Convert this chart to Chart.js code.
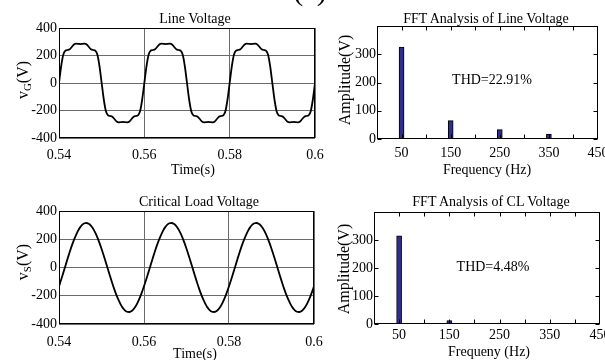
<!DOCTYPE html>
<html>
<head>
<meta charset="utf-8">
<script src="https://cdn.jsdelivr.net/npm/chart.js@4.4.1/dist/chart.umd.min.js"></script>
<style>
  html, body { margin: 0; padding: 0; background: #fff; }
  #wrap { position: relative; width: 605px; height: 360px; overflow: hidden; background: #fff; }
  canvas { position: absolute; }
  .t { position: absolute; font-family: "Liberation Serif", "Times New Roman", serif; font-size: 14px; line-height: 1; color: #000; white-space: nowrap; transform: translate(-50%, -50%); }
  .r { transform: translate(-50%, -50%) rotate(-90deg); font-size: 16px; }
  .t sub { font-size: 11px; vertical-align: -3px; line-height: 0; }
</style>
</head>
<body>
<div id="wrap">
  <canvas id="cA" width="330" height="170" style="left:0px;top:0px;width:330px;height:170px"></canvas>
  <canvas id="cB" width="330" height="170" style="left:300px;top:0px;width:330px;height:170px"></canvas>
  <canvas id="cC" width="330" height="180" style="left:0px;top:180px;width:330px;height:180px"></canvas>
  <canvas id="cD" width="330" height="180" style="left:300px;top:180px;width:330px;height:180px"></canvas>

  <div class="t" style="left:310px;top:-10px;font-size:30px;">(a)</div>

  <div class="t" style="left:195px;top:19px;">Line Voltage</div>
  <div class="t" style="left:486px;top:19px;">FFT Analysis of Line Voltage</div>
  <div class="t" style="left:199px;top:202px;">Critical Load Voltage</div>
  <div class="t" style="left:491px;top:202px;">FFT Analysis of CL Voltage</div>

  <div class="t" style="left:193px;top:170px;">Time(s)</div>
  <div class="t" style="left:195px;top:354px;">Time(s)</div>
  <div class="t" style="left:487px;top:170px;">Frequency (Hz)</div>
  <div class="t" style="left:489px;top:352px;">Frequeny (Hz)</div>

  <div class="t" style="left:492px;top:80px;">THD=22.91%</div>
  <div class="t" style="left:493px;top:267px;">THD=4.48%</div>

  <div class="t r" style="left:345px;top:80px;">Amplitude(V)</div>
  <div class="t r" style="left:344px;top:269px;">Amplitude(V)</div>
  <div class="t r" style="left:23px;top:80px;">v<sub>G</sub>(V)</div>
  <div class="t r" style="left:23px;top:262px;">v<sub>S</sub>(V)</div>
</div>
<script>
// ---------------- DATA ----------------
const timeValues = [
  0.54,0.5405,0.541,0.5415,0.542,0.5425,0.543,0.5435,0.544,0.5445,0.545,0.5455,0.546,0.5465,0.547,0.5475,0.548,0.5485,0.549,0.5495,
  0.55,0.5505,0.551,0.5515,0.552,0.5525,0.553,0.5535,0.554,0.5545,0.555,0.5555,0.556,0.5565,0.557,0.5575,0.558,0.5585,0.559,0.5595,
  0.56,0.5605,0.561,0.5615,0.562,0.5625,0.563,0.5635,0.564,0.5645,0.565,0.5655,0.566,0.5665,0.567,0.5675,0.568,0.5685,0.569,0.5695,
  0.57,0.5705,0.571,0.5715,0.572,0.5725,0.573,0.5735,0.574,0.5745,0.575,0.5755,0.576,0.5765,0.577,0.5775,0.578,0.5785,0.579,0.5795,
  0.58,0.5805,0.581,0.5815,0.582,0.5825,0.583,0.5835,0.584,0.5845,0.585,0.5855,0.586,0.5865,0.587,0.5875,0.588,0.5885,0.589,0.5895,
  0.59,0.5905,0.591,0.5915,0.592,0.5925,0.593,0.5935,0.594,0.5945,0.595,0.5955,0.596,0.5965,0.597,0.5975,0.598,0.5985,0.599,0.5995,
  0.6
];
const lineVoltage = [
  0,120,205,235,240,245,262,280,286,285,283,285,286,280,262,245,240,235,205,120,
  0,-120,-205,-235,-240,-245,-262,-280,-286,-285,-283,-285,-286,-280,-262,-245,-240,-235,-205,-120,
  0,120,205,235,240,245,262,280,286,285,283,285,286,280,262,245,240,235,205,120,
  0,-120,-205,-235,-240,-245,-262,-280,-286,-285,-283,-285,-286,-280,-262,-245,-240,-235,-205,-120,
  0,120,205,235,240,245,262,280,286,285,283,285,286,280,262,245,240,235,205,120,
  0,-120,-205,-235,-240,-245,-262,-280,-286,-285,-283,-285,-286,-280,-262,-245,-240,-235,-205,-120,
  0
];
const loadVoltage = [
  -133,-87,-38,11,60,108,153,194,230,261,286,303,313,315,309,296,276,248,215,176,
  133,87,38,-11,-60,-108,-153,-194,-230,-261,-286,-303,-313,-315,-309,-296,-276,-248,-215,-176,
  -133,-87,-38,11,60,108,153,194,230,261,286,303,313,315,309,296,276,248,215,176,
  133,87,38,-11,-60,-108,-153,-194,-230,-261,-286,-303,-313,-315,-309,-296,-276,-248,-215,-176,
  -133,-87,-38,11,60,108,153,194,230,261,286,303,313,315,309,296,276,248,215,176,
  133,87,38,-11,-60,-108,-153,-194,-230,-261,-286,-303,-313,-315,-309,-296,-276,-248,-215,-176,
  -133
];
const harmonicFreqs = [50, 150, 250, 350];
const lineFFT = [325, 65, 33, 17];
const loadFFT = [315, 12, 3, 0];

const timeTicks = [0.54, 0.56, 0.58, 0.6];
const timeTickLabels = ['0.54', '0.56', '0.58', '0.6'];
const voltTicks = [-400, -200, 0, 200, 400];
const freqTicks = [50, 150, 250, 350, 450];
const freqMinorTicks = [50, 100, 150, 200, 250, 300, 350, 400];
const ampTicks = [0, 100, 200, 300];

// ---------------- HELPERS ----------------
const FONT = { family: '"Liberation Serif", "Times New Roman", serif', size: 14 };

const boxPlugin = {
  id: 'boxFrame',
  afterDraw(chart, args, opts) {
    const { ctx, chartArea } = chart;
    const l = Math.round(chartArea.left) + 0.5, r = Math.round(chartArea.right) - 0.5;
    const t = Math.round(chartArea.top) + 0.5, b = Math.round(chartArea.bottom) - 0.5;
    ctx.save();
    ctx.strokeStyle = '#000';
    ctx.lineWidth = 1;
    if (opts.xTicks) {
      const xs = chart.scales.x;
      ctx.beginPath();
      opts.xTicks.forEach(v => {
        const p = Math.round(xs.getPixelForValue(v)) + 0.5;
        ctx.moveTo(p, b); ctx.lineTo(p, b - 4);
        ctx.moveTo(p, t); ctx.lineTo(p, t + 4);
      });
      ctx.stroke();
    }
    if (opts.yTicks) {
      const ys = chart.scales.y;
      ctx.beginPath();
      opts.yTicks.forEach(v => {
        const p = Math.round(ys.getPixelForValue(v)) + 0.5;
        ctx.moveTo(l, p); ctx.lineTo(l + 4, p);
        ctx.moveTo(r, p); ctx.lineTo(r - 4, p);
      });
      ctx.stroke();
    }
    ctx.strokeRect(l, t, r - l, b - t);
    ctx.restore();
  }
};

function fixX(h) {
  return function (scale) { scale.height = h; scale.paddingLeft = 0; scale.paddingRight = 0; };
}
function fixY(w) {
  return function (scale) { scale.width = w; scale.paddingTop = 0; scale.paddingBottom = 0; };
}

function timeChart(id, values, area) {
  new Chart(document.getElementById(id), {
    type: 'line',
    data: {
      datasets: [{
        data: timeValues.map((t, i) => ({ x: t, y: values[i] })),
        borderColor: '#000',
        borderWidth: 1.8,
        pointRadius: 0,
        cubicInterpolationMode: 'monotone',
        fill: false
      }]
    },
    options: {
      responsive: false,
      animation: false,
      events: [],
      layout: { padding: { left: 0, top: area.top, right: area.right, bottom: 0 } },
      plugins: { legend: { display: false }, tooltip: { enabled: false }, boxFrame: {} },
      scales: {
        x: {
          type: 'linear', min: 0.54, max: 0.6,
          afterBuildTicks: s => { s.ticks = timeTicks.map(v => ({ value: v })); },
          afterFit: fixX(area.xh),
          grid: { color: '#6a6a6a', lineWidth: 1, drawTicks: false },
          border: { display: false },
          ticks: { font: FONT, color: '#000', padding: area.xpad, maxRotation: 0,
                   callback: (v, i) => timeTickLabels[i] }
        },
        y: {
          min: -400, max: 400,
          afterBuildTicks: s => { s.ticks = voltTicks.map(v => ({ value: v })); },
          afterFit: fixY(area.yw),
          grid: { color: '#6a6a6a', lineWidth: 1, drawTicks: false },
          border: { display: false },
          ticks: { font: FONT, color: '#000', padding: 2 }
        }
      }
    },
    plugins: [boxPlugin]
  });
}

function fftChart(id, values, area) {
  new Chart(document.getElementById(id), {
    type: 'bar',
    data: {
      datasets: [{
        data: harmonicFreqs.map((f, i) => ({ x: f, y: values[i] })),
        backgroundColor: '#2e2e8c',
        borderColor: '#000',
        borderWidth: 1,
        barThickness: 5
      }]
    },
    options: {
      responsive: false,
      animation: false,
      events: [],
      layout: { padding: { left: 0, top: area.top, right: area.right, bottom: 0 } },
      plugins: { legend: { display: false }, tooltip: { enabled: false },
                 boxFrame: { xTicks: freqMinorTicks, yTicks: ampTicks } },
      scales: {
        x: {
          type: 'linear', min: 0, max: 450, offset: false,
          afterBuildTicks: s => { s.ticks = freqTicks.map(v => ({ value: v })); },
          afterFit: fixX(area.xh),
          grid: { display: false, drawTicks: false },
          border: { display: false },
          ticks: { font: FONT, color: '#000', padding: area.xpad, maxRotation: 0 }
        },
        y: {
          min: 0, max: 400,
          afterBuildTicks: s => { s.ticks = ampTicks.map(v => ({ value: v })); },
          afterFit: fixY(area.yw),
          grid: { display: false, drawTicks: false },
          border: { display: false },
          ticks: { font: FONT, color: '#000', padding: 1 }
        }
      }
    },
    plugins: [boxPlugin]
  });
}

timeChart('cA', lineVoltage, { top: 28, right: 15, xh: 32, yw: 59, xpad: 9 });
timeChart('cC', loadVoltage, { top: 31, right: 16, xh: 36, yw: 59, xpad: 10 });
fftChart('cB', lineFFT, { top: 26, right: 32, xh: 31, yw: 77, xpad: 6 });
fftChart('cD', loadFFT, { top: 32, right: 30, xh: 36, yw: 74, xpad: 3 });
</script>
</body>
</html>
